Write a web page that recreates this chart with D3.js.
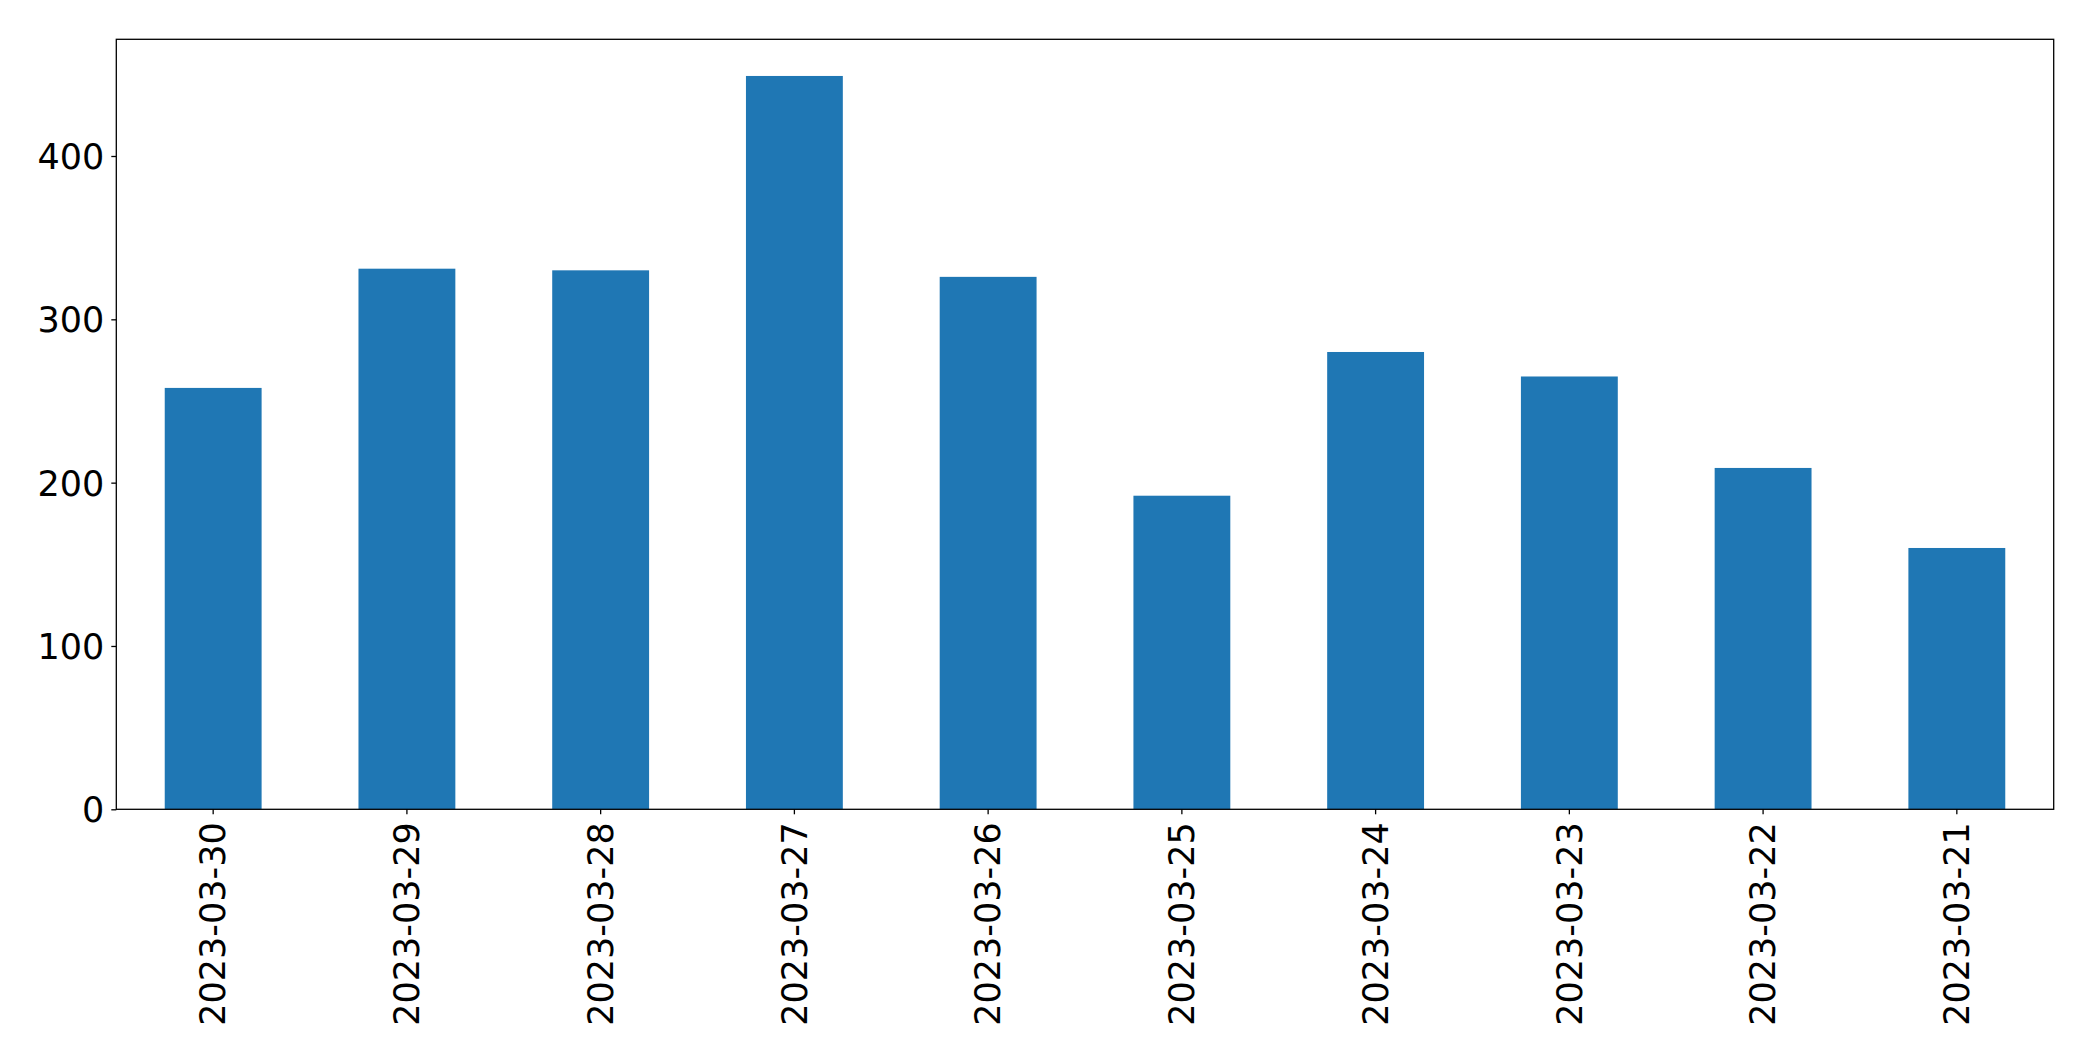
<!DOCTYPE html>
<html>
<head>
<meta charset="utf-8">
<script src="https://cdn.jsdelivr.net/npm/d3@7/dist/d3.min.js"></script>
<style>
  html, body { margin: 0; padding: 0; background: #fff; }
  svg { display: block; }
  text { font-family: "DejaVu Sans", sans-serif; fill: #000; }
</style>
</head>
<body>
<svg id="chart" width="2093" height="1061"></svg>
<script>
const categories = ["2023-03-30","2023-03-29","2023-03-28","2023-03-27","2023-03-26","2023-03-25","2023-03-24","2023-03-23","2023-03-22","2023-03-21"];
const values = [258, 331, 330, 449, 326, 192, 280, 265, 209, 160];
const yTicks = [0, 100, 200, 300, 400];

const W = 2093, H = 1061;
const margin = { left: 116.3, right: W - 2053.7, top: 39.3, bottom: H - 809.3 };
const iw = W - margin.left - margin.right;
const ih = H - margin.top - margin.bottom;
const fontSize = 35;

const svg = d3.select("#chart");
const g = svg.append("g").attr("transform", `translate(${margin.left},${margin.top})`);

const x = d3.scaleBand().domain(categories).range([0, iw]).paddingInner(0.5).paddingOuter(0.25);
const yMax = d3.max(values) * 1.05;
const y = d3.scaleLinear().domain([0, yMax]).range([ih, 0]);

g.selectAll("rect.bar").data(values).enter().append("rect")
  .attr("class", "bar")
  .attr("x", (d, i) => x(categories[i]))
  .attr("width", x.bandwidth())
  .attr("y", d => y(d))
  .attr("height", d => ih - y(d))
  .attr("fill", "#1f77b4");

// Y axis
const yAxis = d3.axisLeft(y).tickValues(yTicks).tickSize(5).tickPadding(7).tickFormat(d3.format("d"));
const ya = g.append("g").call(yAxis);
ya.select(".domain").remove();
ya.selectAll(".tick line").attr("stroke", "#000").attr("stroke-width", 1.3);
ya.selectAll(".tick text").style("font-size", fontSize + "px").attr("dy", "0.36em").style("font-family", "DejaVu Sans");

// X axis
const xAxis = d3.axisBottom(x).tickSize(5).tickPadding(0);
const xa = g.append("g").attr("transform", `translate(0,${ih})`).call(xAxis);
xa.select(".domain").remove();
xa.selectAll(".tick line").attr("stroke", "#000").attr("stroke-width", 1.3);
xa.selectAll(".tick text")
  .style("font-size", fontSize + "px")
  .style("font-family", "DejaVu Sans")
  .attr("text-anchor", "end")
  .attr("dy", "0.35em")
  .attr("y", 0)
  .attr("x", 0)
  .attr("transform", "translate(0,13) rotate(-90)");

// Frame (all four spines)
g.append("rect")
  .attr("x", 0).attr("y", 0).attr("width", iw).attr("height", ih)
  .attr("fill", "none").attr("stroke", "#000").attr("stroke-width", 1.3);
</script>
</body>
</html>
